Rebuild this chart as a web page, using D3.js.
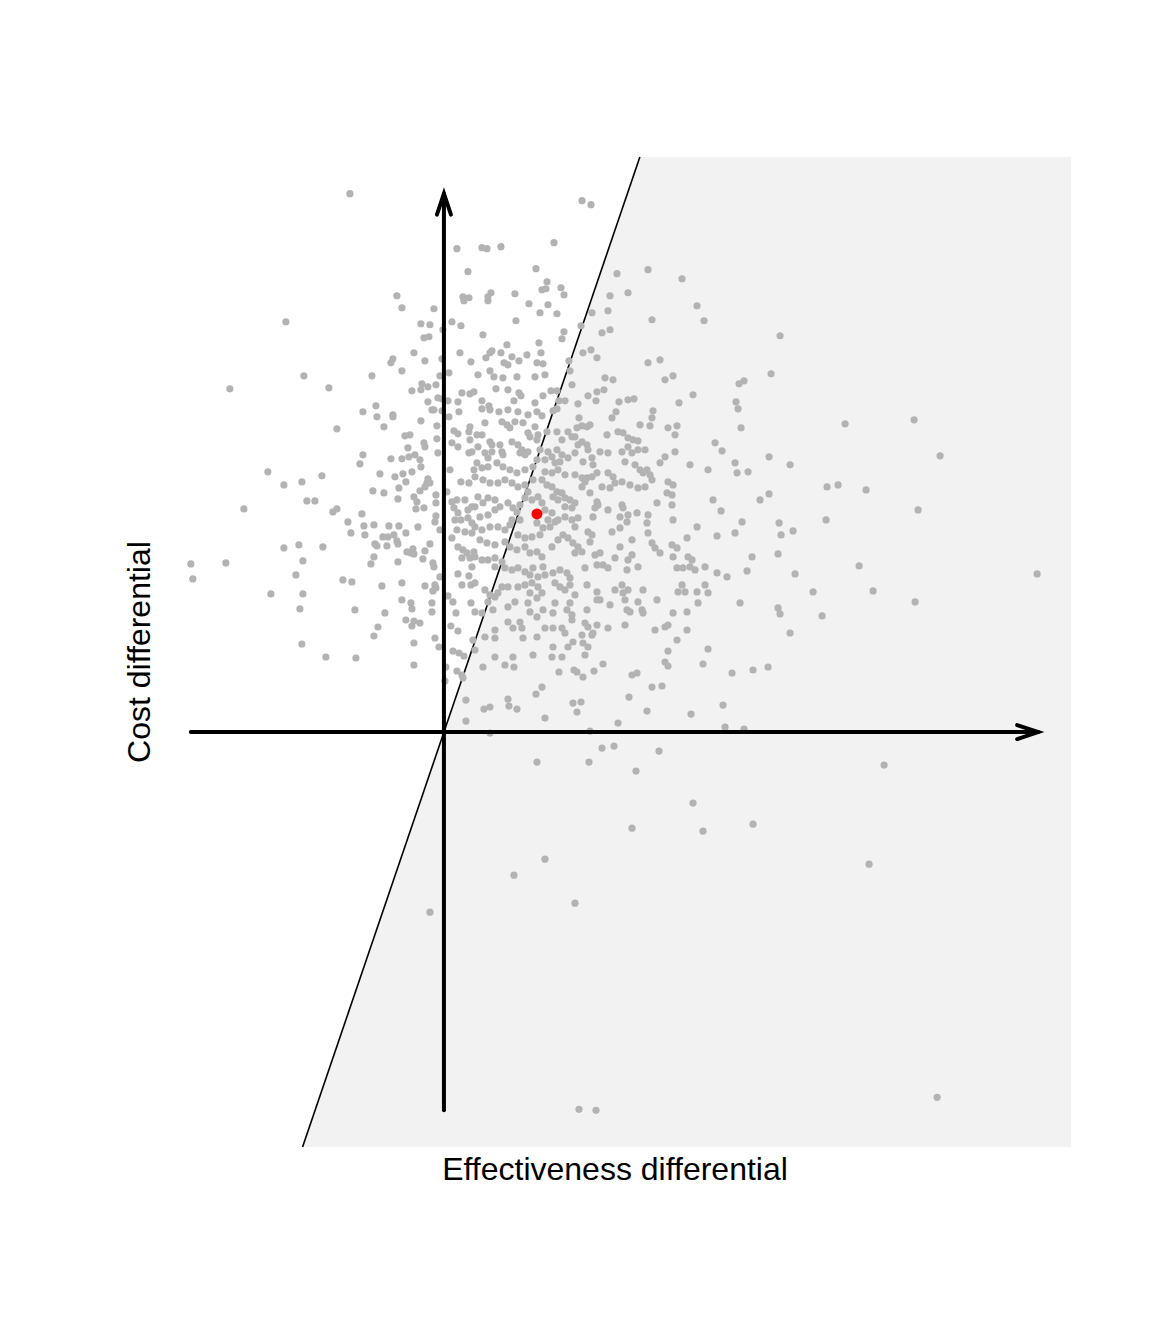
<!DOCTYPE html>
<html>
<head>
<meta charset="utf-8">
<script src="https://cdn.jsdelivr.net/npm/d3@7"></script>
<style>
  html, body { margin: 0; padding: 0; background: #ffffff; }
  svg { display: block; }
</style>
</head>
<body>
<svg id="chart" width="1152" height="1344"></svg>
<script>
// ---- data: incremental effectiveness (QALYs) and incremental cost per simulation ----
const draws = [
[-0.094,5380],[0.013,4830],[0.024,4600],[-0.047,4360],[0.019,4350],[0.025,4340],[0.020,4310],[-0.042,4240],[-0.010,4230],[-0.158,4100],
[-0.023,4080],[-0.014,4070],[0.008,4100],[0.017,4060],[-0.001,4020],[-0.020,3940],[-0.015,3950],[-0.030,3790],[-0.019,3710],[-0.051,3730],
[-0.053,3690],[0.016,3790],[0.027,3700],[-0.002,3730],[-0.042,3610],[-0.072,3560],[-0.140,3560],[0.005,3590],[-0.004,3560],[-0.214,3430],
[-0.115,3440],[-0.022,3480],[-0.016,3450],[-0.023,3420],[-0.008,3470],[-0.032,3410],[-0.006,3340],[-0.002,3330],[0.004,3310],[-0.016,3300],
[0.014,3300],[0.018,3390],[0.026,3380],[0.030,3400],[-0.068,3260],[-0.081,3200],[-0.012,3220],[-0.010,3220],[-0.002,3210],[0.015,3200],
[-0.067,3150],[-0.051,3170],[-0.051,3150],[0.005,3150],
[0.138,5310],[0.147,5270],[0.110,4890],[0.038,4840],[0.043,4830],[0.057,4850],[0.092,4630],[0.173,4580],[0.204,4620],[0.238,4530],
[0.103,4500],[0.102,4430],[0.098,4420],[0.117,4440],[0.120,4370],[0.047,4390],[0.044,4350],[0.044,4310],[0.071,4380],[0.166,4360],
[0.184,4390],[0.085,4280],[0.104,4270],[0.096,4190],[0.113,4180],[0.148,4190],[0.164,4210],[0.253,4260],[0.072,4110],[0.208,4120],
[0.260,4110],[0.137,4060],[0.039,3970],[0.120,4000],[0.118,3930],[0.158,3990],[0.166,4020],[0.063,3870],[0.095,3890],[0.046,3790],
[0.048,3810],[0.042,3740],[0.057,3790],[0.097,3790],[0.139,3790],[0.147,3820],[0.153,3740],[0.068,3750],[0.075,3710],[0.083,3770],
[0.125,3710],[0.060,3690],[0.064,3670],[0.093,3690],[0.099,3680],[0.204,3690],[0.216,3720],[0.046,3610],[0.126,3610],[0.034,3570],
[0.050,3550],[0.059,3540],[0.073,3550],[0.091,3550],[0.101,3570],[0.161,3540],[0.169,3520],[0.221,3520],[0.229,3560],[0.295,3480],
[0.300,3510],[0.128,3470],[0.052,3430],[0.064,3420],[0.075,3390],[0.077,3360],[0.107,3410],[0.113,3410],[0.099,3360],[0.153,3400],
[0.160,3420],[0.144,3360],[0.249,3370],[0.038,3310],[0.045,3260],[0.046,3220],[0.038,3230],[0.070,3310],[0.091,3290],[0.115,3310],
[0.121,3310],[0.152,3310],[0.134,3280],[0.175,3300],[0.184,3320],[0.190,3330],[0.235,3290],[0.292,3300],[0.294,3230],[0.055,3200],
[0.064,3220],[0.074,3200],[0.084,3170],[0.093,3200],[0.098,3160],[0.109,3210],[0.113,3230],[0.172,3200],[0.209,3210],[0.135,3140],
[0.168,3140],[0.208,3140],
[0.336,3960],[0.327,3580],[0.470,3120],[0.401,3080],[0.325,2750],[0.346,2670],[0.496,2760],[0.383,2450],[0.394,2470],[0.422,2420],
[0.325,2380],[0.474,2220],[0.335,2090],[0.382,2120],[0.337,1970],[0.349,2010],[0.334,1780],[0.415,1660],[0.351,1580],[0.593,1580],
[0.369,1400],[0.429,1410],[0.471,1300],[0.334,1240],[0.336,1180],[0.378,1160],[0.346,990],[0.324,650],[0.440,-330],[0.425,-1320],
[0.039,650],[0.061,670],[0.070,650],[0.115,600],[0.130,620],[0.133,600],[0.139,550],[0.150,610],[0.159,680],[0.188,570],
[0.193,590],[0.221,700],[0.224,660],[0.259,680],[0.288,590],[0.309,620],[0.098,450],[0.092,380],[0.208,450],[0.218,460],
[0.064,330],[0.040,230],[0.046,250],[0.065,260],[0.073,230],[0.129,290],[0.137,300],[0.133,200],[0.185,350],[0.203,210],
[0.247,180],[0.279,270],[0.101,140],[0.174,90],[0.281,50],[0.300,30],[0.046,-10],[0.146,10],[0.158,-160],[0.170,-140],
[0.215,-190],[0.093,-300],[0.145,-300],[0.192,-390],[0.249,-710],[0.188,-960],[0.259,-990],[0.309,-920],[0.101,-1270],[0.070,-1430],
[0.131,-1710],[-0.014,-1800],[0.135,-3770],[0.152,-3780],[0.493,-3650],
[-0.030,670],[0.002,650],[0.013,610],[0.018,570],[0.019,540],[0.001,510],[0.022,320],[0.022,110],
[-0.107,3030],[-0.060,3050],[-0.023,3110],[-0.007,3060],[-0.039,2960],[-0.034,2970],[-0.020,2890],[-0.019,2850],[-0.007,2930],[-0.036,2840],
[-0.081,2770],[-0.084,2680],[-0.053,2730],[-0.042,2730],[-0.035,2750],[-0.029,2770],[-0.024,2720],[-0.006,2790],[-0.023,2650],[-0.032,2600],
[-0.176,2600],[-0.160,2470],[-0.142,2500],[-0.122,2560],[-0.064,2580],[-0.041,2580],[-0.049,2550],[-0.038,2500],[-0.016,2530],[-0.014,2490],
[-0.019,2450],[-0.017,2490],[-0.024,2410],[-0.045,2440],[-0.071,2410],[-0.060,2390],[-0.008,2370],[-0.137,2310],[-0.129,2310],[-0.046,2330],
[-0.030,2350],[-0.027,2300],[-0.008,2290],[-0.200,2230],[-0.111,2200],[-0.107,2230],[-0.082,2180],[-0.028,2230],[-0.020,2240],[-0.008,2160],
[-0.096,2100],[-0.080,2060],[-0.070,2070],[-0.055,2060],[-0.045,2060],[-0.026,2050],[-0.009,2100],[-0.004,2020],[-0.093,1990],[-0.079,1970],
[-0.038,1990],[-0.061,1950],[-0.056,1950],[-0.050,1970],[-0.047,1910],[-0.046,1880],[-0.069,1880],[-0.067,1860],[-0.057,1860],[-0.160,1840],
[-0.145,1870],[-0.121,1850],[-0.014,1880],[-0.037,1800],[-0.031,1830],[-0.030,1780],[-0.033,1790],[-0.019,1810],[-0.070,1750],[-0.253,1680],
[-0.218,1690],[-0.141,1710],[-0.073,1680],[-0.046,1700],[-0.021,1730],[-0.011,1690],[-0.010,1650],[-0.251,1530],[-0.148,1570],[-0.101,1520],
[-0.092,1500],[-0.042,1490],[-0.062,1460],[-0.019,1460],[-0.009,1470],[-0.011,1410],[-0.008,1440],[-0.004,1550],[-0.173,1380],[-0.141,1380],
[-0.144,1230],[-0.089,1220],[-0.042,1320],[-0.033,1290],[-0.032,1230],[-0.012,1290],[-0.012,1200],[-0.059,1190],[-0.038,1120],[-0.030,1110],
[-0.024,1090],[-0.032,1060],[-0.066,1050],[-0.070,960],[-0.142,880],[-0.030,890],[-0.009,940],[-0.005,850],[-0.118,750],[-0.088,740],
[0.010,3010],[0.014,2980],[0.026,3050],[0.025,3000],[0.008,2890],[0.014,2850],[0.026,2920],[0.028,2800],[0.025,2790],[0.006,2620],
[0.017,2500],[0.025,2490],[0.030,2620],[0.003,2400],[0.008,2300],[0.013,2320],[0.021,2320],[0.010,2240],[0.014,2190],[0.024,2220],
[0.028,2250],[0.011,2120],[0.017,2120],[0.024,2140],[0.028,2090],[0.013,2020],[0.021,2000],[0.028,1990],[0.008,1940],[0.014,1850],
[0.019,1820],[0.023,1790],[0.018,1740],[0.026,1740],[0.030,1800],[0.028,1650],[0.025,1560],[0.014,1580],[0.018,1470],[0.027,1470],
[0.004,1360],[0.009,1300],[0.012,1190],[0.027,1290],[0.007,1060],[0.014,1010],[0.029,920],[0.009,810],[0.015,790],[0.020,760],
[0.041,3090],[0.033,2970],[0.038,2970],[0.046,2900],[0.048,2870],[0.058,3100],[0.063,3070],[0.066,3040],[0.071,3100],[0.079,3090],
[0.084,2990],[0.086,2950],[0.094,2970],[0.091,3050],[0.093,2920],[0.103,3000],[0.113,3000],[0.124,3000],[0.128,2950],[0.131,2950],
[0.133,3040],[0.138,3060],[0.143,3050],[0.146,3070],[0.163,2970],[0.174,3000],[0.179,2990],[0.184,2940],[0.189,2920],[0.194,2910],
[0.196,3070],[0.206,3060],[0.224,3040],[0.233,3060],[0.231,2970],[0.297,3040],[0.271,2890],[0.278,2810],[0.118,2920],[0.134,2870],
[0.138,2900],[0.143,2870],[0.144,2820],[0.034,2850],[0.041,2790],[0.048,2800],[0.044,2740],[0.056,2870],[0.058,2800],[0.059,2770],
[0.068,2900],[0.074,2870],[0.078,2820],[0.076,2790],[0.081,2770],[0.084,2800],[0.096,2820],[0.104,2800],[0.113,2820],[0.108,2750],
[0.118,2770],[0.116,2700],[0.101,2720],[0.111,2690],[0.124,2740],[0.131,2790],[0.139,2700],[0.148,2740],[0.149,2670],[0.156,2800],
[0.164,2790],[0.178,2800],[0.184,2850],[0.188,2790],[0.194,2820],[0.201,2820],[0.181,2700],[0.191,2670],[0.196,2620],[0.203,2620],
[0.206,2570],[0.199,2590],[0.216,2690],[0.221,2750],[0.231,2800],[0.246,2670],[0.264,2620],[0.291,2690],[0.293,2590],[0.304,2600],
[0.033,2690],[0.038,2640],[0.044,2650],[0.053,2690],[0.059,2650],[0.066,2620],[0.073,2590],[0.081,2620],[0.089,2650],[0.093,2720],
[0.101,2600],[0.108,2590],[0.114,2620],[0.121,2570],[0.131,2570],[0.138,2540],[0.143,2540],[0.148,2550],[0.153,2590],[0.164,2590],
[0.169,2550],[0.178,2500],[0.171,2490],[0.166,2440],[0.158,2450],[0.186,2470],[0.194,2440],[0.201,2450],[0.208,2520],[0.224,2500],
[0.229,2470],[0.223,2390],[0.228,2370],[0.031,2550],[0.039,2520],[0.046,2490],[0.054,2490],[0.061,2520],[0.068,2490],[0.074,2450],
[0.081,2470],[0.089,2520],[0.098,2520],[0.103,2470],[0.108,2450],[0.113,2400],[0.118,2390],[0.121,2340],[0.126,2320],[0.131,2290],
[0.128,2240],[0.121,2250],[0.114,2320],[0.109,2350],[0.084,2400],[0.081,2340],[0.088,2320],[0.094,2350],[0.138,2450],[0.141,2500],
[0.146,2390],[0.153,2300],[0.154,2270],[0.151,2240],[0.149,2150],[0.164,2220],[0.178,2270],[0.179,2240],[0.176,2150],[0.184,2170],
[0.183,2100],[0.193,2190],[0.204,2170],[0.203,2090],[0.213,2290],[0.228,2270],[0.229,2120],[0.253,2050],[0.269,2320],[0.277,2210],
[0.273,1960],[0.291,1990],[0.298,2100],[0.316,2320],[0.034,2350],[0.039,2290],[0.044,2340],[0.051,2320],[0.056,2250],[0.051,2220],
[0.044,2170],[0.036,2150],[0.031,2250],[0.064,2290],[0.069,2240],[0.076,2270],[0.073,2200],[0.068,2120],[0.076,2120],[0.098,2290],
[0.101,2220],[0.108,2190],[0.104,2120],[0.111,2100],[0.093,2090],[0.099,2040],[0.106,2050],[0.114,2120],[0.121,2150],[0.128,2120],
[0.134,2140],[0.131,2050],[0.031,2050],[0.038,2020],[0.046,2050],[0.054,2050],[0.061,2020],[0.066,2070],[0.074,1970],[0.081,1940],
[0.088,1950],[0.096,1970],[0.036,1920],[0.043,1890],[0.051,1870],[0.061,1900],[0.066,1850],[0.073,1820],[0.081,1850],[0.086,1790],
[0.093,1800],[0.098,1750],[0.108,1850],[0.114,1920],[0.119,1970],[0.124,1940],[0.129,1890],[0.134,1850],[0.138,1800],[0.131,1790],
[0.144,2000],[0.148,1970],[0.146,1900],[0.168,2000],[0.176,2040],[0.188,1920],[0.176,1850],[0.208,1890],[0.211,1840],[0.216,1790],
[0.228,1870],[0.233,1840],[0.204,1990],[0.243,1940],[0.229,1750],[0.244,1750],[0.248,1720],[0.261,1650],[0.273,1590],[0.283,1550],
[0.308,1750],[0.303,1610],[0.151,1770],[0.156,1790],[0.153,1670],[0.159,1670],[0.164,1640],[0.171,1740],[0.184,1720],[0.188,1770],
[0.194,1650],[0.183,1620],[0.233,1640],[0.239,1640],[0.246,1650],[0.251,1620],[0.031,1750],[0.038,1720],[0.044,1720],[0.051,1740],
[0.058,1700],[0.051,1650],[0.061,1640],[0.068,1620],[0.074,1640],[0.081,1600],[0.089,1640],[0.099,1650],[0.101,1570],[0.094,1550],
[0.086,1570],[0.109,1590],[0.116,1620],[0.123,1590],[0.126,1540],[0.141,1640],[0.031,1490],[0.041,1420],[0.046,1370],[0.054,1390],
[0.058,1450],[0.064,1450],[0.074,1450],[0.081,1470],[0.088,1490],[0.094,1450],[0.098,1390],[0.093,1340],[0.086,1390],[0.084,1290],
[0.086,1200],[0.093,1150],[0.099,1220],[0.111,1490],[0.116,1450],[0.121,1420],[0.126,1470],[0.131,1370],[0.126,1290],[0.123,1220],
[0.128,1170],[0.128,1120],[0.111,1290],[0.109,1190],[0.143,1470],[0.153,1400],[0.156,1320],[0.153,1320],[0.143,1220],[0.141,1090],
[0.144,1050],[0.149,990],[0.148,970],[0.166,1270],[0.171,1420],[0.178,1470],[0.179,1390],[0.184,1420],[0.181,1320],[0.183,1220],
[0.186,1200],[0.194,1300],[0.198,1220],[0.199,1420],[0.199,1190],[0.213,1320],[0.181,1070],[0.164,1040],[0.153,1070],[0.138,970],
[0.139,890],[0.144,850],[0.141,770],[0.211,1020],[0.221,1050],[0.224,1070],[0.229,1190],[0.243,1200],[0.254,1290],[0.238,1470],
[0.241,1400],[0.234,1400],[0.253,1400],[0.261,1470],[0.264,1390],[0.243,1020],[0.233,920],[0.224,810],[0.264,830],[0.296,1290],
[0.031,1200],[0.038,1190],[0.044,1300],[0.051,1350],[0.049,1220],[0.064,1250],[0.071,1300],[0.064,1100],[0.069,1040],[0.078,1040],
[0.076,1100],[0.051,1020],[0.051,940],[0.041,950],[0.079,940],[0.093,950],[0.101,1040],[0.109,1040],[0.118,1040],[0.121,990],
[0.109,850],[0.124,850],[0.129,900],[0.031,820],[0.051,750],[0.069,750],[0.089,770],[0.108,750],[0.118,750]
];
const meanPoint = [0.093, 2180];   // mean incremental effect / cost
const wtp = 29340;                 // willingness-to-pay threshold (slope of line)
const xLabel = "Effectiveness differential";
const yLabel = "Cost differential";

// ---- layout ----
const panel = { left: 157, right: 1071, top: 157, bottom: 1147 };
const svg = d3.select("#chart");

const xExt = d3.extent(draws, d => d[0]);
const yExt = d3.extent(draws, d => d[1]);
const xPad = (xExt[1] - xExt[0]) * 0.04;
const yPad = (yExt[1] - yExt[0]) * 0.04;
const x = d3.scaleLinear().domain([xExt[0] - xPad, xExt[1] + xPad]).range([panel.left, panel.right]);
const y = d3.scaleLinear().domain([yExt[0] - yPad, yExt[1] + yPad]).range([panel.bottom, panel.top]);

const [xd0, xd1] = x.domain();
const [yd0, yd1] = y.domain();

// WTP line intersections with top/bottom of panel
const xAtTop = yd1 / wtp;
const xAtBottom = yd0 / wtp;

// Shaded cost-effective region (right of / below WTP line)
svg.append("path")
  .attr("d", d3.line()([
    [x(xAtTop), y(yd1)], [x(xd1), y(yd1)], [x(xd1), y(yd0)], [x(xAtBottom), y(yd0)]
  ]) + "Z")
  .attr("fill", "#f2f2f2");

// WTP line
svg.append("line")
  .attr("x1", x(xAtBottom)).attr("y1", y(yd0))
  .attr("x2", x(xAtTop)).attr("y2", y(yd1))
  .attr("stroke", "#000").attr("stroke-width", 1.6);

// Simulation points
svg.append("g").selectAll("circle").data(draws).join("circle")
  .attr("cx", d => x(d[0])).attr("cy", d => y(d[1]))
  .attr("r", 3.6).attr("fill", "#b3b3b3");

// Axes with arrows
function arrow(x1, y1, x2, y2) {
  svg.append("line").attr("x1", x1).attr("y1", y1).attr("x2", x2).attr("y2", y2)
    .attr("stroke", "#000").attr("stroke-width", 4).attr("stroke-linecap", "round");
  const len = Math.hypot(x2 - x1, y2 - y1);
  const ux = (x2 - x1) / len, uy = (y2 - y1) / len;
  const L = 21, W = 7;
  const p1 = [x2 - L * ux - W * uy, y2 - L * uy + W * ux];
  const p2 = [x2 - L * ux + W * uy, y2 - L * uy - W * ux];
  svg.append("path").attr("d", d3.line()([p1, [x2, y2], p2]))
    .attr("fill", "none").attr("stroke", "#000").attr("stroke-width", 4)
    .attr("stroke-linejoin", "miter").attr("stroke-linecap", "round");
}
arrow(x(xExt[0]), y(0), x(xExt[1]) + 1, y(0));
arrow(x(0), y(yExt[0]), x(0), y(yExt[1]));

// Mean point
svg.append("circle").attr("cx", x(meanPoint[0])).attr("cy", y(meanPoint[1]))
  .attr("r", 5.5).attr("fill", "#ff0000");

// Axis labels
svg.append("text")
  .attr("x", (panel.left + panel.right) / 2 + 1).attr("y", 1180)
  .attr("text-anchor", "middle")
  .attr("font-family", "'Liberation Sans', Arial, Helvetica, sans-serif")
  .attr("font-size", 32).attr("fill", "#000")
  .text(xLabel);

svg.append("text")
  .attr("transform", `translate(150, ${(panel.top + panel.bottom) / 2}) rotate(-90)`)
  .attr("text-anchor", "middle")
  .attr("font-family", "'Liberation Sans', Arial, Helvetica, sans-serif")
  .attr("font-size", 32).attr("fill", "#000")
  .text(yLabel);
</script>
</body>
</html>
